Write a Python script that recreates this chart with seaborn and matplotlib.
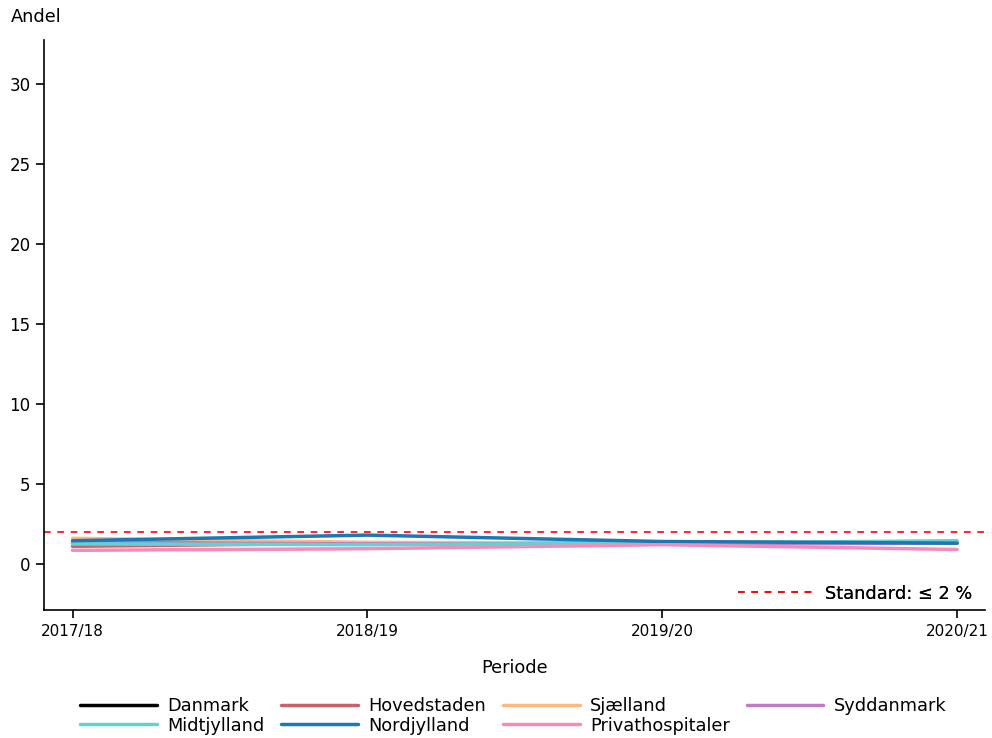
import numpy as np
import pandas as pd
import matplotlib
matplotlib.use('Agg')
import matplotlib.pyplot as plt
import seaborn as sns
from matplotlib.lines import Line2D

fs = 12.8
fs_tick = 11

perioder = ['2017/18', '2018/19', '2019/20', '2020/21']
regioner = ['Danmark', 'Hovedstaden', 'Sjælland', 'Syddanmark',
            'Midtjylland', 'Nordjylland', 'Privathospitaler']

danmark = [1.3, 1.3, 1.35, 1.3]
hovedstaden = [1.1, 1.3, 1.25, 1.3]
sjaelland = [1.6, 1.35, 1.3, 1.35]
syddanmark = [1.35, 1.25, 1.25, 1.3]
midtjylland = [1.25, 1.2, 1.3, 1.45]
nordjylland = [1.45, 1.8, 1.4, 1.3]
privat = [0.85, 0.95, 1.2, 0.9]

standard = 2

farver = ['#000000', '#C9616B', '#FDB97D', '#C07BC6',
          '#5DD3D4', '#1A78B4', '#F48CBA']

vals = [danmark, hovedstaden, sjaelland, syddanmark, midtjylland, nordjylland, privat]
rows = []
for reg, v in zip(regioner, vals):
    for i, p in enumerate(perioder):
        rows.append({'Periode': i, 'Andel': v[i], 'Region': reg})
df = pd.DataFrame(rows)

sns.set_style('ticks')
plt.rcParams['font.family'] = ['DejaVu Sans']
for k in ['text.color', 'axes.labelcolor', 'xtick.color', 'ytick.color', 'axes.edgecolor']:
    plt.rcParams[k] = 'black'

fig = plt.figure(figsize=[9.92, 7.38], dpi=100)
ax = fig.add_axes([0.044, 0.173, 0.949, 0.773])

sns.lineplot(data=df, x='Periode', y='Andel', hue='Region', hue_order=regioner,
             palette=dict(zip(regioner, farver)), linewidth=2.5, ax=ax, legend=False)

dash = (0, (4, 4))
ax.axhline(standard, color='red', linestyle=dash, linewidth=1.2)

ax.set_xlim(-0.098, 3.095)
ax.set_ylim(-2.9, 32.75)
ax.set_xticks(range(len(perioder)))
ax.set_xticklabels(perioder, fontsize=fs_tick)
ax.set_yticks([0, 5, 10, 15, 20, 25, 30])
ax.tick_params(axis='y', labelsize=12)
ax.tick_params(length=6, width=1.2)
for s in ['left', 'bottom']:
    ax.spines[s].set_linewidth(1.2)
ax.set_xlabel('Periode', fontsize=fs, labelpad=15)
ax.set_ylabel('')
ax.text(-0.035, 1.025, 'Andel', transform=ax.transAxes, fontsize=fs, ha='left', va='bottom')
sns.despine(ax=ax)

leg_std = ax.legend([Line2D([0], [0], color='red', linestyle=dash, linewidth=1.2)],
                    ['Standard: \u2264 2 %'], loc='lower right', frameon=False, fontsize=fs,
                    handlelength=4.3, handletextpad=0.6, borderaxespad=0.1,
                    bbox_to_anchor=(0.996, -0.002))
ax.add_artist(leg_std)

# matplotlib fills legend columns first, so reorder to get row-wise layout
leg_order = [0, 4, 1, 5, 2, 6, 3]
handles = [Line2D([0], [0], color=farver[i], linewidth=2.5) for i in leg_order]
labels = [regioner[i] for i in leg_order]
fig.legend(handles, labels, loc='lower center', ncol=4, frameon=False, fontsize=fs,
           bbox_to_anchor=(0.5176, -0.017), handlelength=4.3, handletextpad=0.6,
           columnspacing=0.95, labelspacing=0.1)

fig.savefig('out.png', dpi=100)
